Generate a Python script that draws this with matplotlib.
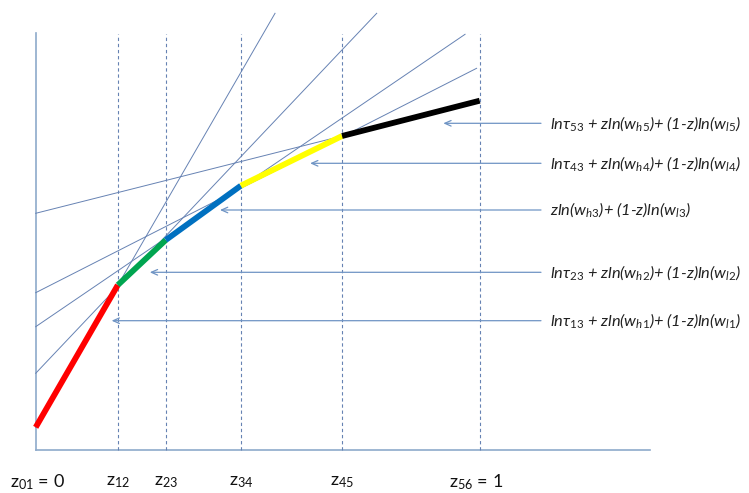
"""Piecewise-linear envelope of ln-terms over z, with the five tangent lines."""

import matplotlib

matplotlib.use("Agg")
import matplotlib.pyplot as plt

plt.rcParams["font.family"] = ["Lato", "DejaVu Sans"]
plt.rcParams["mathtext.fontset"] = "custom"
plt.rcParams["mathtext.rm"] = "Lato"
plt.rcParams["mathtext.it"] = "Lato:italic"
plt.rcParams["mathtext.default"] = "it"

# breakpoints along z and the envelope value at each of them
Z_BREAKS = [0.0, 0.185, 0.293, 0.462, 0.690, 1.0]
ENVELOPE = [0.227, 1.65, 2.10, 2.643, 3.14, 3.493]
Z_LABELS = [
    "z$_{\\mathrm{01}}$ = 0",
    "z$_{\\mathrm{12}}$",
    "z$_{\\mathrm{23}}$",
    "z$_{\\mathrm{34}}$",
    "z$_{\\mathrm{45}}$",
    "z$_{\\mathrm{56}}$ = 1",
]
SEGMENT_COLORS = ["#ff0000", "#00a550", "#0070c0", "#ffff00", "#000000"]

# thin lines: (z0, y0, z1, y1)
LINE_START_Z = [0.0, 0.0, 0.0, 0.0, 0.0]
LINE_START_Y = [0.227, 0.767, 1.233, 1.573, 2.367]
LINE_END_Z = [0.539, 0.768, 0.967, 0.993, 0.690]
LINE_END_Y = [4.367, 4.367, 4.157, 3.817, 3.14]

# labels, top to bottom, with where their arrows point
LABELS = [
    "ln\u03c4$_{53}$ + zln(w$_{h5}$)+ (1-z)ln(w$_{l5}$)",
    "ln\u03c4$_{43}$ + zln(w$_{h4}$)+ (1-z)ln(w$_{l4}$)",
    "zln(w$_{h3}$)+ (1-z)ln(w$_{l3}$)",
    "ln\u03c4$_{23}$ + zln(w$_{h2}$)+ (1-z)ln(w$_{l2}$)",
    "ln\u03c4$_{13}$ + zln(w$_{h1}$)+ (1-z)ln(w$_{l1}$)",
]
ARROW_TIP_Z = [0.918, 0.618, 0.415, 0.257, 0.171]
ARROW_Y = [3.267, 2.867, 2.40, 1.777, 1.293]

AXIS_COLOR = "#8eaacb"
THIN_COLOR = "#6682b3"
ARROW_COLOR = "#6f94c4"


def main() -> None:
    fig = plt.figure(figsize=(7.49, 4.93), dpi=100)
    ax = fig.add_axes([0, 0, 1, 1])
    ax.set_xlim(-0.0804, 1.6065)
    ax.set_ylim(-0.43, 4.5)
    ax.axis("off")

    # axes of the diagram
    ax.plot([0, 0], [0, 4.17], color=AXIS_COLOR, linewidth=1.2)
    ax.plot([0, 1.383], [0, 0], color=AXIS_COLOR, linewidth=1.2)

    # dashed z boundaries
    for z in Z_BREAKS[1:]:
        ax.plot([z, z], [0, 4.16], color=THIN_COLOR, linewidth=0.8, linestyle=(0, (3, 2.5)))

    # thin tangent lines
    for z0, y0, z1, y1 in zip(LINE_START_Z, LINE_START_Y, LINE_END_Z, LINE_END_Y):
        ax.plot([z0, z1], [y0, y1], color=THIN_COLOR, linewidth=0.7)

    # thick envelope segments
    for i, color in enumerate(SEGMENT_COLORS):
        ax.plot(
            Z_BREAKS[i:i + 2],
            ENVELOPE[i:i + 2],
            color=color,
            linewidth=4.2,
            solid_capstyle="butt",
            zorder=3,
        )

    # arrows and labels
    for label, tip_z, y in zip(LABELS, ARROW_TIP_Z, ARROW_Y):
        ax.annotate(
            "",
            xy=(tip_z, y),
            xytext=(1.138, y),
            arrowprops=dict(
                arrowstyle="->,head_length=0.45,head_width=0.2",
                color=ARROW_COLOR,
                linewidth=0.9,
                shrinkA=0,
                shrinkB=0,
            ),
        )
        ax.text(1.158, y, label, fontsize=11.8, fontstyle="italic", ha="left", va="center", color="#222222")

    # z labels under the axis
    label_x = [-0.058, Z_BREAKS[1], Z_BREAKS[2], Z_BREAKS[3], Z_BREAKS[4], 0.931]
    label_ha = ["left", "center", "center", "center", "center", "left"]
    for x, text, ha in zip(label_x, Z_LABELS, label_ha):
        ax.text(x, -0.317, text, fontsize=13, ha=ha, va="center", color="#111111")

    fig.savefig("out.png", dpi=100)
    plt.close(fig)


if __name__ == "__main__":
    main()
